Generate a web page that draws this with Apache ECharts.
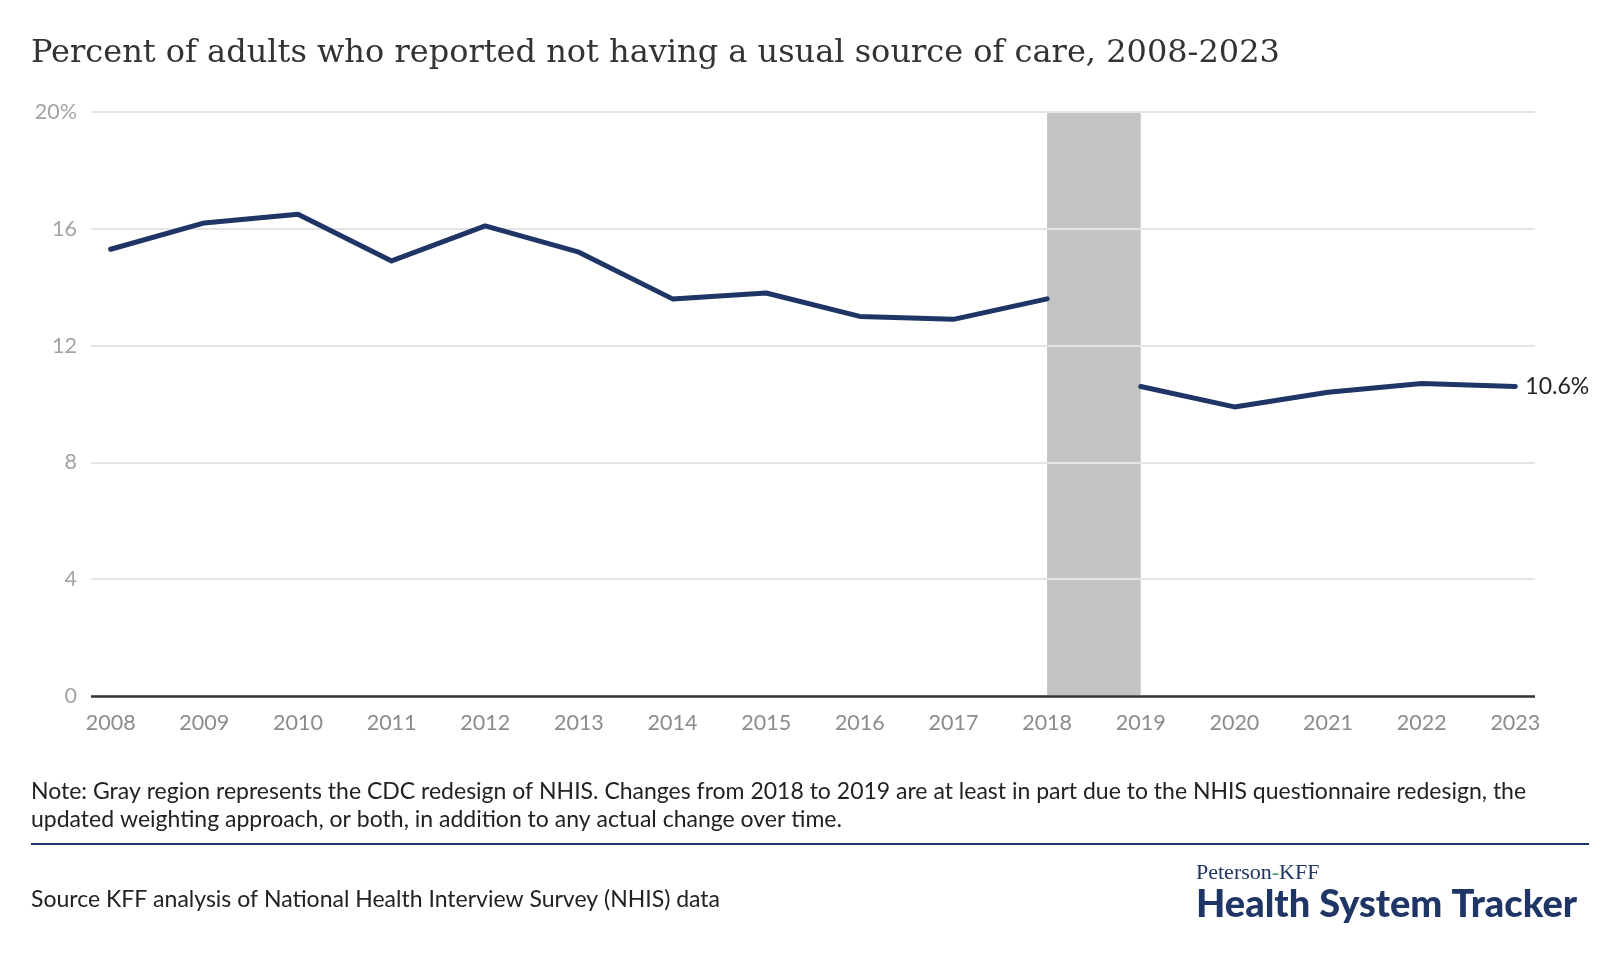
<!DOCTYPE html>
<html>
<head>
<meta charset="utf-8">
<script src="https://cdn.jsdelivr.net/npm/echarts@6/dist/echarts.min.js"></script>
<style>
html,body{margin:0;padding:0;background:#fff;}
#chart{width:1620px;height:980px;}
</style>
</head>
<body>
<div id="chart"></div>
<script>
const titleText = 'Percent of adults who reported not having a usual source of care, 2008-2023';
const years = [2008,2009,2010,2011,2012,2013,2014,2015,2016,2017,2018,2019,2020,2021,2022,2023];
const values = [15.3,16.2,16.5,14.9,16.1,15.2,13.6,13.8,13.0,12.9,13.6,10.6,9.9,10.4,10.7,10.6];
const redesignStart = 2018;
const redesignEnd = 2019;
const noteLines = [
  'Note: Gray region represents the CDC redesign of NHIS. Changes from 2018 to 2019 are at least in part due to the NHIS questionnaire redesign, the',
  'updated weighting approach, or both, in addition to any actual change over time.'
];
const sourceText = 'Source KFF analysis of National Health Interview Survey (NHIS) data';

const pre = years.map((y,i)=>[y, values[i]]).filter(d=>d[0] <= redesignStart);
const post = years.map((y,i)=>[y, values[i]]).filter(d=>d[0] >= redesignEnd);

const navy = '#1f3566';
const chart = echarts.init(document.getElementById('chart'));
chart.setOption({
  animation:false,
  grid:{left:91, right:85, top:112, bottom:284},
  xAxis:{
    type:'value', min:2007.79, max:2023.21,
    axisLine:{show:false},
    axisTick:{show:false},
    splitLine:{show:false},
    axisLabel:{customValues:years, color:'#8c8c8c', fontSize:21.5, fontFamily:'Lato', margin:16, formatter:v=>String(v)}
  },
  yAxis:{
    type:'value', min:0, max:20, interval:4, z:1,
    axisLine:{show:false}, axisTick:{show:false},
    splitLine:{lineStyle:{color:'#e4e4e4', width:2}},
    axisLabel:{color:'#a3a3a3', fontSize:21.5, fontFamily:'Lato', margin:14,
      formatter:v=> v===20 ? '20%' : String(v)}
  },
  graphic:[
    {type:'text', x:31, y:54, style:{text:titleText, font:'32px "DejaVu Serif"', fill:'#333', textVerticalAlign:'middle'}},
    {type:'text', x:31, y:792, style:{text:noteLines[0], font:'23px Lato', fill:'#222', textVerticalAlign:'middle'}},
    {type:'text', x:31, y:820, style:{text:noteLines[1], font:'23px Lato', fill:'#222', textVerticalAlign:'middle'}},
    {type:'line', shape:{x1:31, y1:844, x2:1589, y2:844}, style:{stroke:navy, lineWidth:2}},
    {type:'text', x:31, y:900, style:{text:sourceText, font:'23px Lato', fill:'#222', textVerticalAlign:'middle'}},
    {type:'text', x:1196, y:873, style:{text:'{a|Peterson}{g|-}{a|KFF}', textVerticalAlign:'middle',
      rich:{a:{font:'22px "Liberation Serif"', fill:navy}, g:{font:'22px "Liberation Serif"', fill:'#3f9a5a'}}}},
    {type:'text', x:1196, y:905, style:{text:'Health System Tracker', font:'900 38px Lato', fill:navy, textVerticalAlign:'middle'}}
  ],
  series:[
    {
      type:'line', z:0, silent:true, symbol:'none',
      data:[[redesignStart,20],[redesignEnd,20]],
      lineStyle:{width:0},
      areaStyle:{color:'#c3c3c3', opacity:1}
    },
    {
      type:'line', z:4, symbol:'none', data:pre,
      lineStyle:{color:navy, width:5, cap:'round', join:'round'},
      markLine:{silent:true, symbol:'none', label:{show:false},
        lineStyle:{color:'#333', width:2.5, type:'solid'},
        data:[[{coord:[2007.79,0]},{coord:[2023.21,0]}]]}
    },
    {
      type:'line', z:4, symbol:'none', data:post,
      lineStyle:{color:navy, width:5, cap:'round', join:'round'},
      endLabel:{show:true, distance:10, color:'#222', fontSize:23, fontFamily:'Lato',
        formatter:p=>p.value[1].toFixed(1)+'%'}
    }
  ]
});
</script>
</body>
</html>
